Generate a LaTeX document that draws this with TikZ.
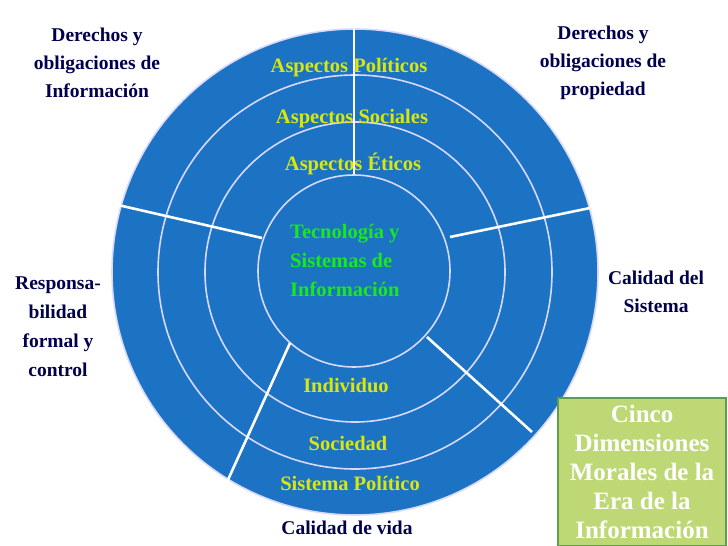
\documentclass[tikz,border=0pt]{standalone}
\usepackage{fontspec}
\setmainfont{Liberation Serif}
\begin{document}
\begin{tikzpicture}[x=1pt,y=-1pt,
 ring/.style={draw=white!85!blue,line width=1.6pt,circle,inner sep=0},
 spoke/.style={draw=white,line width=2.6pt},
 lab/.style={font=\bfseries\fontsize{19.5}{28}\selectfont,text=blue!30!black,align=center},
 rl/.style={font=\bfseries\fontsize{20.5}{26}\selectfont,text=yellow!85!green}]
\definecolor{bb}{HTML}{1C73C4}
\definecolor{gbox}{HTML}{BDD874}
\definecolor{glow}{HTML}{4FA83A}
\useasboundingbox (0,0) rectangle (728,546);
\fill[white] (0,0) rectangle (728,546);
\node[ring,fill=bb,minimum size=486pt] (c1) at (355,272) {};
\node[ring,fill=bb,minimum size=394pt] (c2) at (355,272) {};
\node[ring,fill=bb,minimum size=300pt] (c3) at (355,272) {};
\node[ring,fill=bb,minimum size=192pt] (c4) at (354,271) {};
\coordinate (t0) at (354,0);
\coordinate (l0) at (118,205);
\coordinate (r0) at (590,208);
\coordinate (ll0) at (198,546);
\coordinate (lr0) at (532,432);
\draw[spoke] (t0) -- (c4.north);
\draw[spoke] (l0) -- (262,238);
\draw[spoke] (r0) -- (450,237);
\draw[spoke] (ll0) -- (290,343);
\draw[spoke] (lr0) -- (427,337);
\node[rl] (ap) at (349,68) {Aspectos Políticos};
\node[rl] (as) at (352,119) {Aspectos Sociales};
\node[rl] (ae) at (353,164) {Aspectos Éticos};
\node[font=\bfseries\fontsize{20.5}{29}\selectfont,text=green!90!black!90!white,align=left,anchor=north west,inner sep=0] (ts) at (290,224) {Tecnología y\\Sistemas de\\Información};
\node[rl] (in) at (346,386) {Individuo};
\node[rl] (so) at (348,443) {Sociedad};
\node[rl] (sp) at (350,483) {Sistema Político};
\node[lab] (d1) at (97,63) {Derechos y\\obligaciones de\\Información};
\node[lab] (d2) at (603,63) {Derechos y\\obligaciones de\\propiedad};
\node[lab] (cs) at (656,292) {Calidad del\\Sistema};
\node[lab,font=\bfseries\fontsize{19.5}{29}\selectfont] (rb) at (58,327) {Responsa-\\bilidad\\formal y\\control};
\node[lab] (cv) at (347,528) {Calidad de vida};
\node[draw=glow!70!gray,line width=1.5pt,fill=gbox,minimum width=168pt,minimum height=148pt,inner sep=0,
  font=\bfseries\fontsize{25}{29}\selectfont,text=white,align=center] (gb) at (642,472)
  {Cinco\\Dimensiones\\Morales de la\\Era de la\\Información};
\end{tikzpicture}
\end{document}
